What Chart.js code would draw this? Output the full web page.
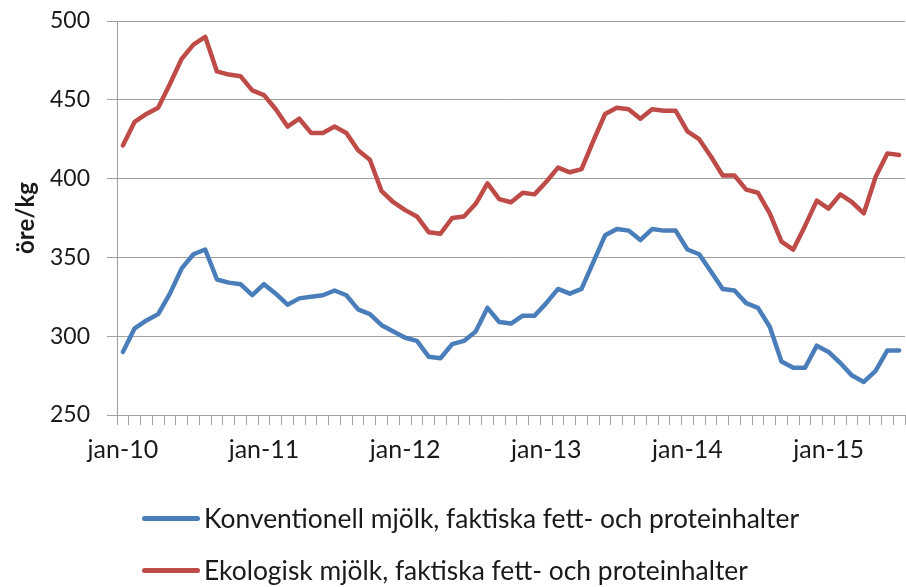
<!DOCTYPE html>
<html>
<head>
<meta charset="utf-8">
<script src="https://cdn.jsdelivr.net/npm/chart.js@4/dist/chart.umd.min.js"></script>
<style>
  html, body { margin: 0; padding: 0; background: #fff; }
  #wrap { position: relative; width: 906px; height: 587px; }
  #c { position: absolute; left: 0; top: 0; }
  .leg { position: absolute; left: 142px; height: 30px; display: flex; align-items: center;
         font-family: Lato, "Noto Sans", sans-serif; font-size: 26.4px; color: #1a1a1a; white-space: nowrap; }
  .leg .sw { width: 58px; height: 5px; border-radius: 3px; margin-right: 4px; }
</style>
</head>
<body>
<div id="wrap">
  <canvas id="c" width="906" height="587"></canvas>
  <div class="leg" id="leg0" style="top:503px"><span class="sw" id="sw0"></span><span id="lt0"></span></div>
  <div class="leg" id="leg1" style="top:555px"><span class="sw" id="sw1"></span><span id="lt1"></span></div>
</div>
<script>
const months = ['jan','feb','mar','apr','maj','jun','jul','aug','sep','okt','nov','dec'];
const years = ['10','11','12','13','14','15'];
const monthCount = 67; // jan-10 .. jul-15

const seriesNames = [
  'Konventionell mjölk, faktiska fett- och proteinhalter',
  'Ekologisk mjölk, faktiska fett- och proteinhalter'
];

const konventionell = [290, 305, 310, 314, 327, 343, 352, 355, 336, 334, 333, 326,
  333, 327, 320, 324, 325, 326, 329, 326, 317, 314, 307, 303,
  299, 297, 287, 286, 295, 297, 303, 318, 309, 308, 313, 313,
  321, 330, 327, 330, 347, 364, 368, 367, 361, 368, 367, 367,
  355, 352, 341, 330, 329, 321, 318, 306, 284, 280, 280, 294,
  290, 283, 275, 271, 278, 291, 291];

const ekologisk = [421, 436, 441, 445, 460, 476, 485, 490, 468, 466, 465, 456,
  453, 444, 433, 438, 429, 429, 433, 429, 418, 412, 392, 385,
  380, 376, 366, 365, 375, 376, 384, 397, 387, 385, 391, 390,
  398, 407, 404, 406, 424, 441, 445, 444, 438, 444, 443, 443,
  430, 425, 414, 402, 402, 393, 391, 378, 360, 355, 370, 386,
  381, 390, 385, 378, 401, 416, 415];

const yTicks = [250, 300, 350, 400, 450, 500];
const colors = ['#4a7ebb', '#be4b48'];

const labels = [];
for (let i = 0; i < monthCount; i++) {
  labels.push(months[i % 12] + '-' + years[Math.floor(i / 12)]);
}

const gridColor = '#a0a0a0';
const textColor = '#1a1a1a';
const fontFamily = 'Lato, "Noto Sans", sans-serif';

new Chart(document.getElementById('c'), {
  type: 'line',
  data: {
    labels: labels,
    datasets: [
      { label: seriesNames[0], data: konventionell, borderColor: colors[0], backgroundColor: colors[0],
        borderWidth: 4.5, pointRadius: 0, tension: 0, borderCapStyle: 'round', borderJoinStyle: 'round' },
      { label: seriesNames[1], data: ekologisk, borderColor: colors[1], backgroundColor: colors[1],
        borderWidth: 4.5, pointRadius: 0, tension: 0, borderCapStyle: 'round', borderJoinStyle: 'round' }
    ]
  },
  options: {
    responsive: false,
    devicePixelRatio: 1,
    animation: false,
    layout: { padding: { top: 21, right: 1, left: 0, bottom: 112 } },
    plugins: { legend: { display: false }, tooltip: { enabled: false } },
    scales: {
      x: {
        type: 'category',
        offset: true,
        grid: { display: true, drawOnChartArea: false, drawTicks: true, tickLength: 10, color: gridColor, offset: true },
        border: { display: true, color: gridColor, width: 1 },
        ticks: {
          autoSkip: false, maxRotation: 0, minRotation: 0, padding: 10,
          color: textColor, font: { family: fontFamily, size: 25 },
          callback: function(v, i) { return i % 12 === 0 ? labels[i] : ''; }
        },
        afterFit: function(s) { s.height = 60; s.paddingLeft = 0; s.paddingRight = 0; }
      },
      y: {
        min: yTicks[0], max: yTicks[yTicks.length - 1],
        afterBuildTicks: function(s) { s.ticks = yTicks.map(v => ({ value: v })); },
        grid: { color: gridColor, tickLength: 10, lineWidth: 1 },
        border: { display: true, color: gridColor, width: 1 },
        ticks: { padding: 17, color: textColor, font: { family: fontFamily, size: 23 } },
        title: { display: true, text: 'öre/kg', color: textColor,
                 font: { family: fontFamily, size: 24, weight: 'bold' }, padding: { top: 12, bottom: 0 } },
        afterFit: function(s) { s.width = 117; s.paddingTop = 0; s.paddingBottom = 0; }
      }
    }
  }
});

for (let k = 0; k < 2; k++) {
  document.getElementById('sw' + k).style.background = colors[k];
  document.getElementById('lt' + k).textContent = seriesNames[k];
}
</script>
</body>
</html>
